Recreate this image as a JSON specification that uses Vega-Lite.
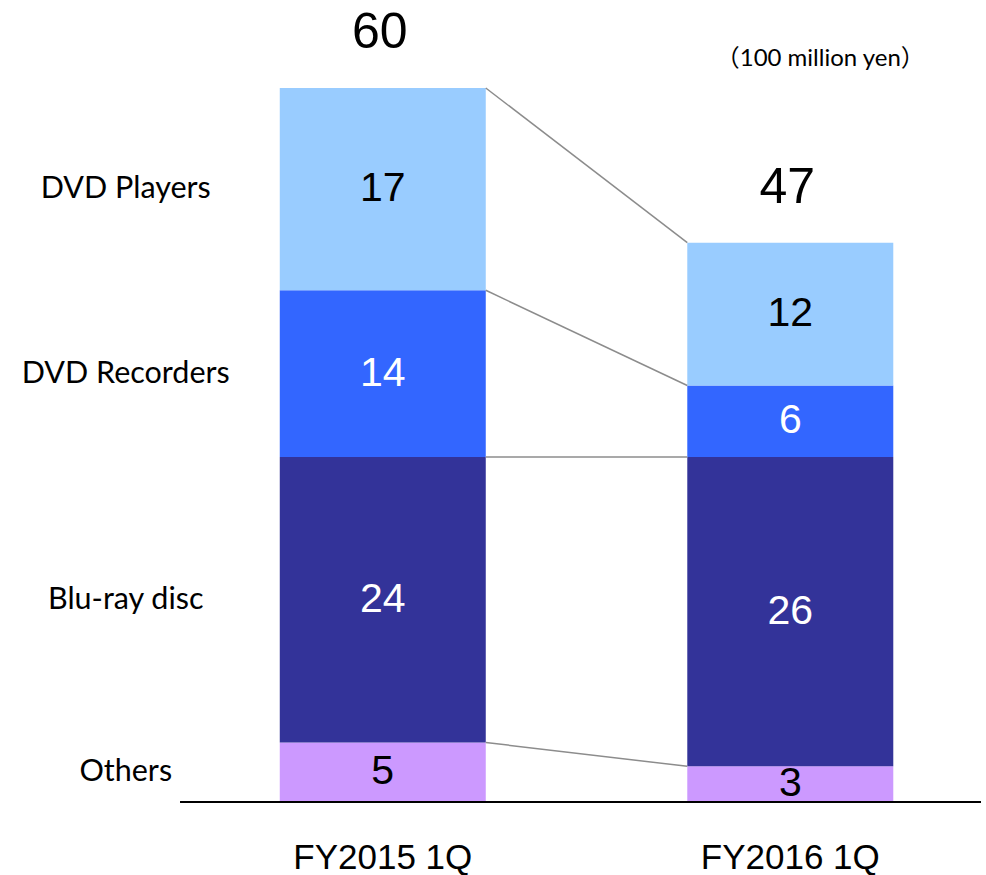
{
  "$schema": "https://vega.github.io/schema/vega-lite/v6.json",
  "width": 986,
  "height": 875,
  "autosize": {"type": "none"},
  "padding": 0,
  "background": "white",
  "config": {"view": {"stroke": null}},
  "data": {
    "values": [
      {"category": "FY2015 1Q", "idx": 0, "segment": "Others", "rank": 1, "value": 5},
      {"category": "FY2015 1Q", "idx": 0, "segment": "Blu-ray disc", "rank": 2, "value": 24},
      {"category": "FY2015 1Q", "idx": 0, "segment": "DVD Recorders", "rank": 3, "value": 14},
      {"category": "FY2015 1Q", "idx": 0, "segment": "DVD Players", "rank": 4, "value": 17},
      {"category": "FY2016 1Q", "idx": 1, "segment": "Others", "rank": 1, "value": 3},
      {"category": "FY2016 1Q", "idx": 1, "segment": "Blu-ray disc", "rank": 2, "value": 26},
      {"category": "FY2016 1Q", "idx": 1, "segment": "DVD Recorders", "rank": 3, "value": 6},
      {"category": "FY2016 1Q", "idx": 1, "segment": "DVD Players", "rank": 4, "value": 12}
    ]
  },
  "transform": [
    {"stack": "value", "groupby": ["category"], "sort": [{"field": "rank", "order": "ascending"}], "as": ["y0", "y1"]}
  ],
  "layer": [
    {
      "mark": {"type": "bar", "width": 206},
      "encoding": {
        "x": {"field": "idx", "type": "quantitative", "scale": {"domain": [-0.927, 1.468], "nice": false, "zero": false}, "axis": null},
        "y": {"field": "y0", "type": "quantitative", "scale": {"domain": [-6.134, 67.395], "nice": false, "zero": false}, "axis": null},
        "y2": {"field": "y1"},
        "color": {
          "field": "segment", "type": "nominal", "legend": null,
          "scale": {"domain": ["DVD Players", "DVD Recorders", "Blu-ray disc", "Others"], "range": ["#99ccff", "#3366ff", "#333399", "#cc99ff"]}
        }
      }
    },
    {
      "transform": [{"pivot": "category", "value": "y1", "groupby": ["segment"]}],
      "mark": {"type": "rule", "color": "#8c8c8c", "strokeWidth": 1.5, "xOffset": 103, "x2Offset": -103},
      "encoding": {
        "x": {"datum": 0, "type": "quantitative"},
        "x2": {"datum": 1},
        "y": {"field": "FY2015 1Q", "type": "quantitative"},
        "y2": {"field": "FY2016 1Q"}
      }
    },
    {
      "mark": {"type": "rule", "color": "black", "strokeWidth": 2},
      "encoding": {
        "x": {"datum": -0.496, "type": "quantitative"},
        "x2": {"datum": 1.468},
        "y": {"datum": 0, "type": "quantitative"}
      }
    },
    {
      "transform": [{"calculate": "(datum.y0 + datum.y1) / 2", "as": "mid"}],
      "mark": {"type": "text", "font": "Liberation Sans", "fontSize": 41, "baseline": "middle", "align": "center"},
      "encoding": {
        "x": {"field": "idx", "type": "quantitative"},
        "y": {"field": "mid", "type": "quantitative"},
        "text": {"field": "value", "type": "quantitative"},
        "color": {
          "condition": {"test": "datum.segment === 'DVD Recorders' || datum.segment === 'Blu-ray disc'", "value": "white"},
          "value": "black"
        }
      }
    },
    {
      "transform": [
        {"filter": "datum.idx === 0"},
        {"calculate": "(datum.y0 + datum.y1) / 2", "as": "mid"}
      ],
      "mark": {"type": "text", "font": "Lato", "fontSize": 30.5, "baseline": "middle", "align": "center", "xOffset": -257, "color": "black"},
      "encoding": {
        "x": {"field": "idx", "type": "quantitative"},
        "y": {"field": "mid", "type": "quantitative"},
        "text": {"field": "segment", "type": "nominal"}
      }
    },
    {
      "transform": [{"aggregate": [{"op": "sum", "field": "value", "as": "total"}], "groupby": ["category", "idx"]}],
      "layer": [
        {
          "mark": {"type": "text", "font": "Liberation Sans", "fontSize": 50, "baseline": "middle", "align": "center", "yOffset": -55, "xOffset": -3, "color": "black"},
          "encoding": {
            "x": {"field": "idx", "type": "quantitative"},
            "y": {"field": "total", "type": "quantitative"},
            "text": {"field": "total", "type": "quantitative"}
          }
        },
        {
          "mark": {"type": "text", "font": "Liberation Sans", "fontSize": 35, "baseline": "middle", "align": "center", "yOffset": 56, "color": "black"},
          "encoding": {
            "x": {"field": "idx", "type": "quantitative"},
            "y": {"datum": 0, "type": "quantitative"},
            "text": {"field": "category", "type": "nominal"}
          }
        }
      ]
    },
    {
      "data": {"values": [{"label": "（100 million yen）"}]},
      "mark": {"type": "text", "font": "Lato, Noto Sans CJK JP", "fontSize": 24, "baseline": "middle", "align": "center", "xOffset": 30, "color": "black"},
      "encoding": {
        "x": {"datum": 1, "type": "quantitative"},
        "y": {"datum": 62.4, "type": "quantitative"},
        "text": {"field": "label", "type": "nominal"}
      }
    }
  ]
}
